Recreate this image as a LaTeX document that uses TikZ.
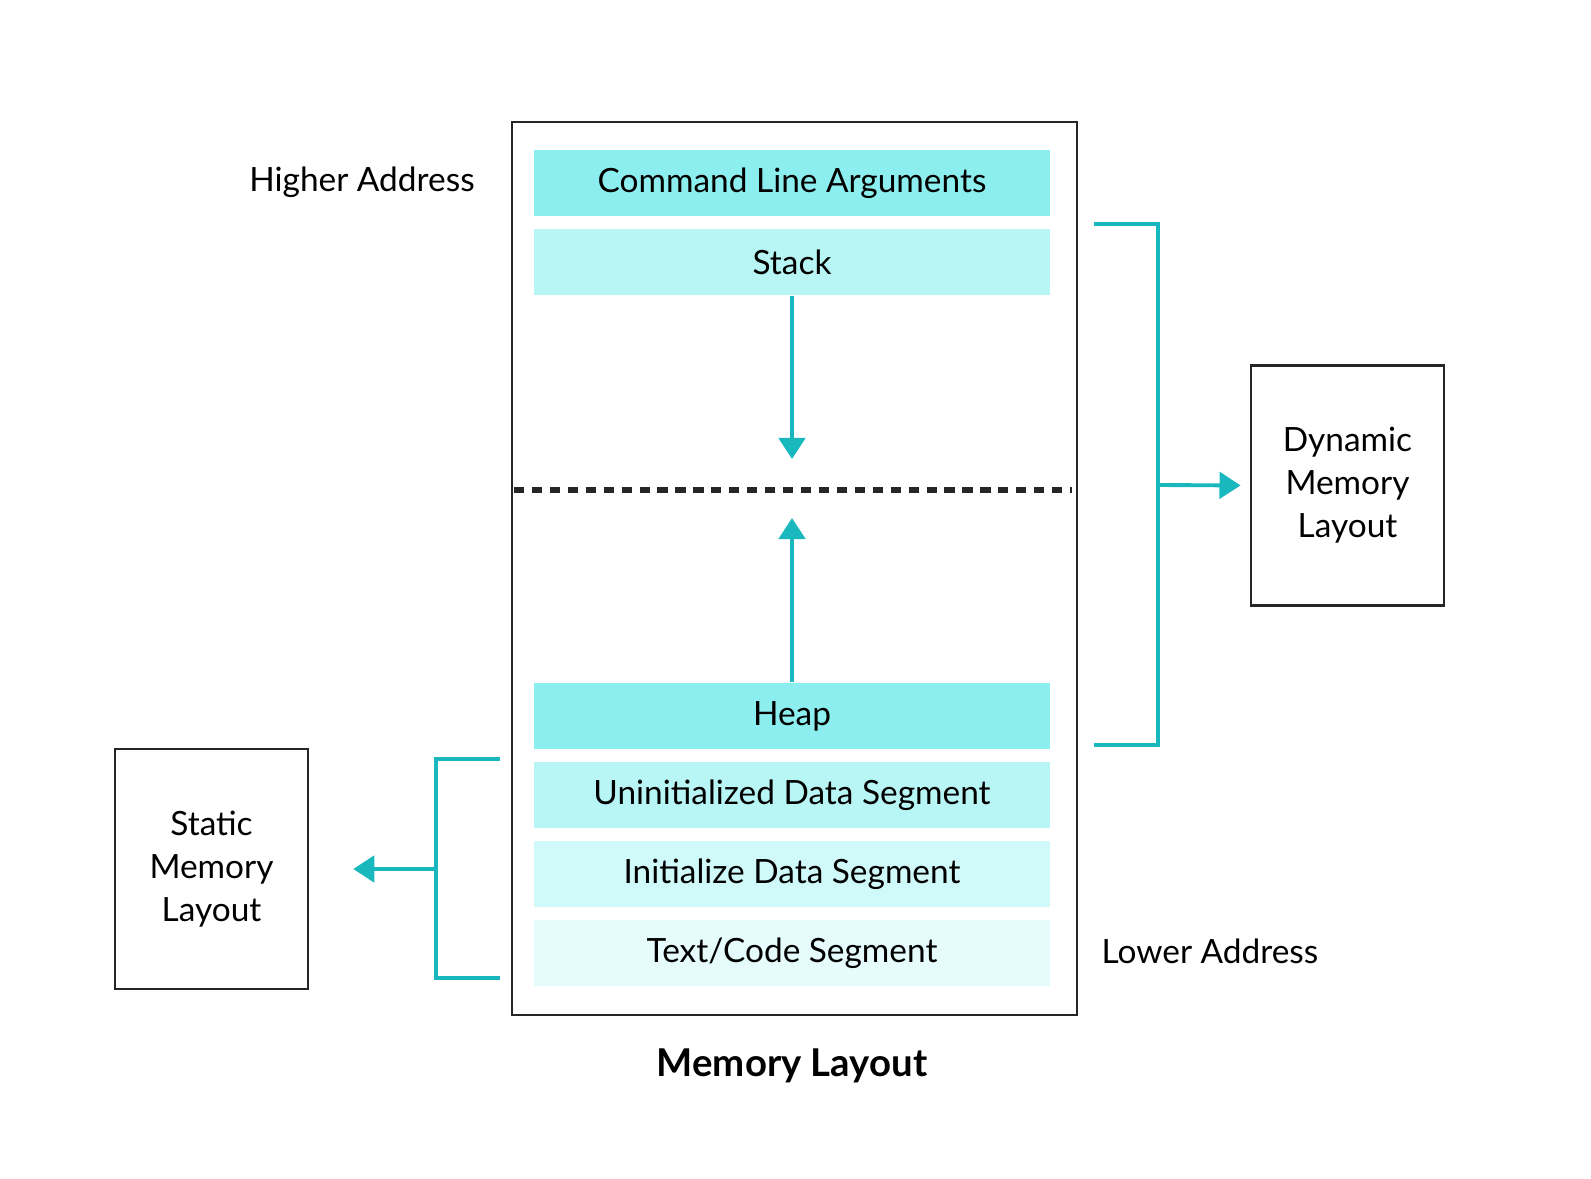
\documentclass[tikz,border=0pt]{standalone}
\usepackage{fontspec}
\setmainfont{Lato}
\usepackage{tikz}
\usetikzlibrary{arrows.meta}
\definecolor{tealline}{RGB}{24,184,190}
\definecolor{segA}{RGB}{140,238,238}
\definecolor{segB}{RGB}{184,245,245}
\definecolor{segC}{RGB}{208,249,249}
\definecolor{segD}{RGB}{230,252,252}
\tikzset{
  seg/.style={minimum width=5.15cm,minimum height=0.66cm,inner sep=0pt,font=\fontsize{9.5}{12}\selectfont},
  sidebox/.style={draw=black!85,line width=0.7pt,minimum width=1.93cm,minimum height=2.4cm,align=center,font=\fontsize{9.5}{12.2}\selectfont},
  tealarrow/.style={draw=tealline,line width=1.1pt,-{Triangle[width=7.5pt,length=6pt]}},
  bracket/.style={draw=tealline,line width=1.1pt}
}
\begin{document}
\begin{tikzpicture}[x=0.01cm,y=-0.01cm]
\useasboundingbox (0,0) rectangle (1591,1179);
\draw[black!85,line width=0.7pt] (512,122) rectangle (1077,1015);
\node[seg,fill=segA] (cla) at (792,183) {Command Line Arguments};
\node[seg,fill=segB] (stack) at (792,262) {Stack};
\node[seg,fill=segA] (heap) at (792,716) {Heap};
\node[seg,fill=segB] (bss) at (792,795) {Uninitialized Data Segment};
\node[seg,fill=segC] (data) at (792,874) {Initialize Data Segment};
\node[seg,fill=segD] (code) at (792,953) {Text/Code Segment};
\draw[black!85,line width=1.9pt,dash pattern=on 2.9pt off 2.2pt] (514,490) -- (1072,490);
\coordinate (stackend) at (792,459);
\coordinate (heapend) at (792,518);
\draw[tealarrow] (stack.south) -- (stackend);
\draw[tealarrow] (heap.north) -- (heapend);
\node[font=\fontsize{9.5}{12}\selectfont] (high) at (362,182) {Higher Address};
\node[font=\fontsize{9.5}{12}\selectfont] (low) at (1210,951) {Lower Address};
\node[font=\bfseries\fontsize{10.9}{13}\selectfont] (title) at (792,1066) {Memory Layout};
% dynamic part
\node[sidebox] (dyn) at (1347.5,485.5) {Dynamic\\Memory\\Layout};
\coordinate (dtop) at (1094,224);
\coordinate (dbot) at (1094,745);
\coordinate (dmid) at (1158,485);
\draw[bracket] (dtop) -- (1158,224) -- (1158,745) -- (dbot);
\draw[tealarrow,shorten >=2.6pt] (dmid) -- (dyn.west);
% static part
\node[sidebox] (stat) at (211.5,869) {Static\\Memory\\Layout};
\coordinate (stop) at (500,759);
\coordinate (sbot) at (500,978);
\coordinate (smid) at (436,869);
\draw[bracket] (stop) -- (436,759) -- (436,978) -- (sbot);
\draw[tealarrow,shorten >=12.5pt] (smid) -- (stat.east);
\end{tikzpicture}
\end{document}
